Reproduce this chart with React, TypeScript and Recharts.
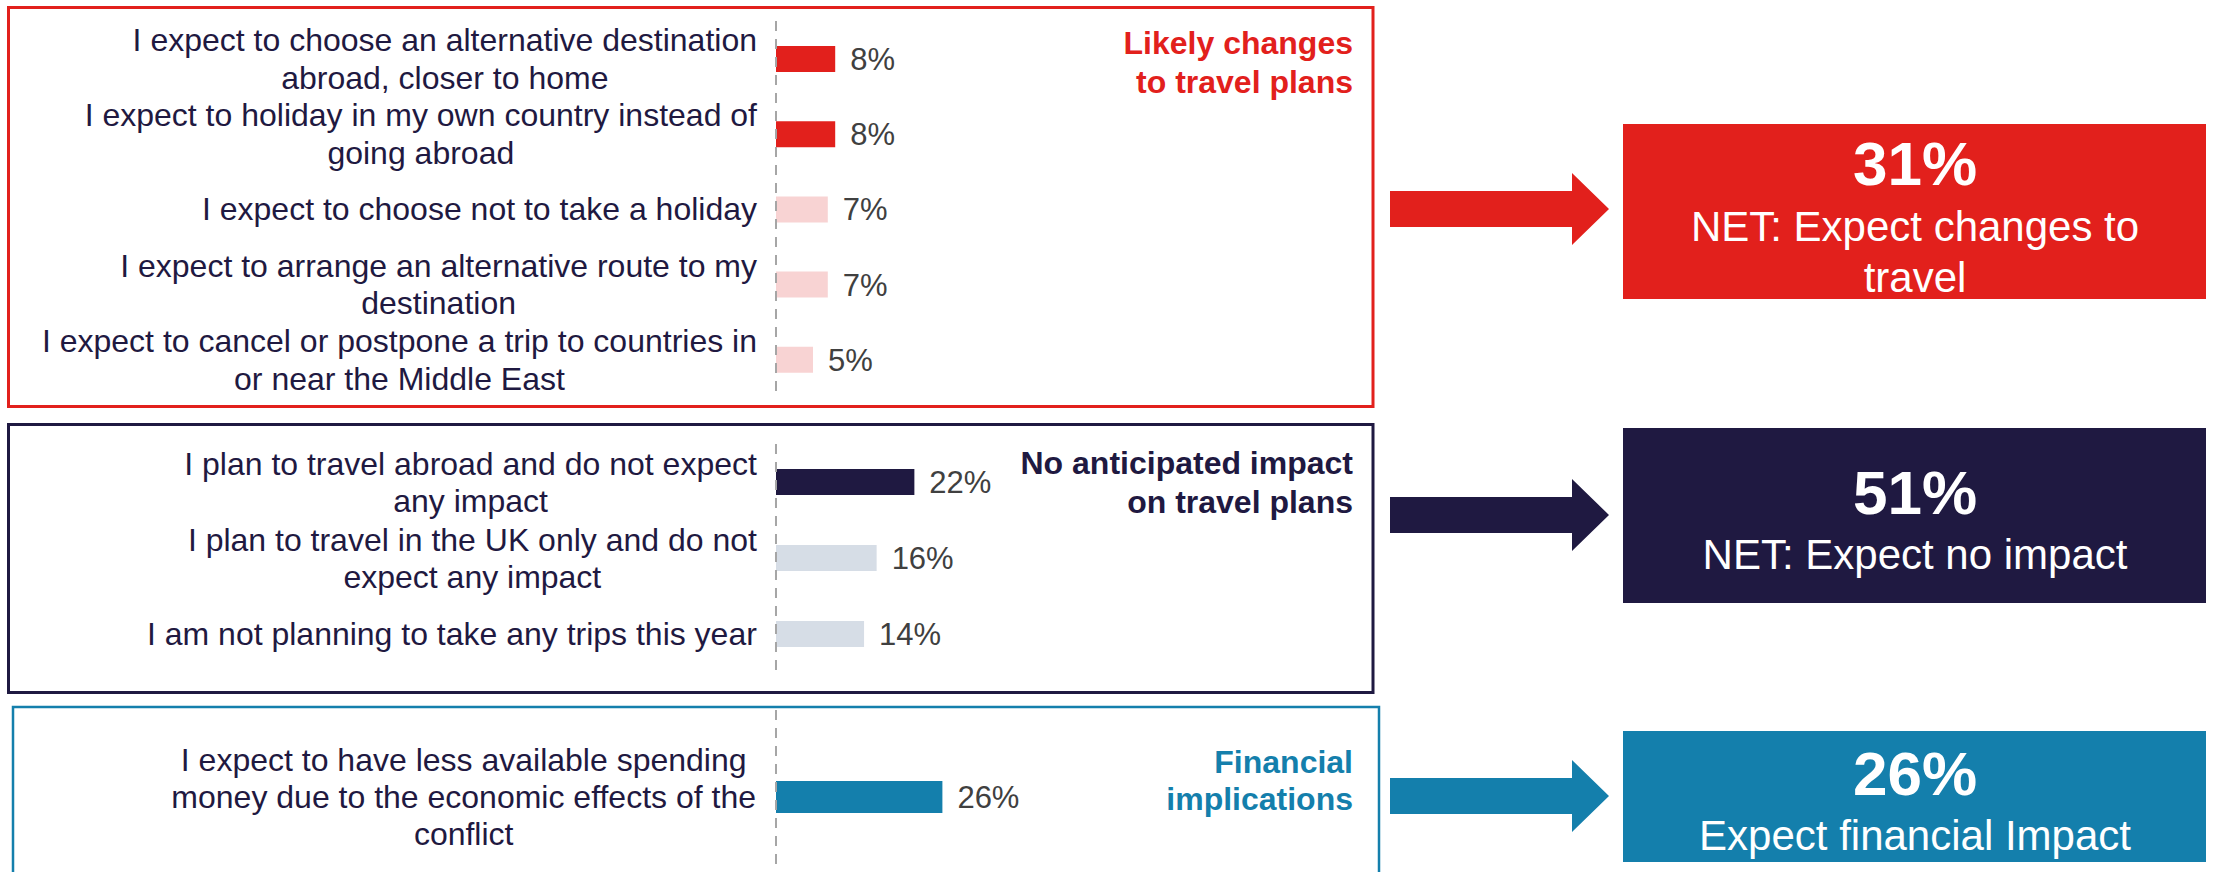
import React from "react";
import { BarChart, Bar, XAxis, YAxis, Cell, LabelList } from "recharts";

// --- data ---
const changeLabels = [
  "I expect to choose an alternative destination\nabroad, closer to home",
  "I expect to holiday in my own country instead of\ngoing abroad",
  "I expect to choose not to take a holiday",
  "I expect to arrange an alternative route to my\ndestination",
  "I expect to cancel or postpone a trip to countries in\nor near the Middle East",
];
const changeValues = [8, 8, 7, 7, 5];

const noImpactLabels = [
  "I plan to travel abroad and do not expect\nany impact",
  "I plan to travel in the UK only and do not\nexpect any impact",
  "I am not planning to take any trips this year",
];
const noImpactValues = [22, 16, 14];

const financeLabels = [
  "I expect to have less available spending\nmoney due to the economic effects of the\nconflict",
];
const financeValues = [26];

const groupTitles = [
  ["Likely changes", "to travel plans"],
  ["No anticipated impact", "on travel plans"],
  ["Financial", "implications"],
];
const netValues = [31, 51, 26];
const netCaptions = [
  ["NET: Expect changes to", "travel"],
  ["NET: Expect no impact"],
  ["Expect financial Impact"],
];

// --- palette ---
const RED = "#e2201c";
const PINK = "#f8d3d3";
const NAVY = "#1f1941";
const MIST = "#d6dde6";
const BLUE = "#147fac";
const FONT = "'Liberation Sans', Arial, sans-serif";

const changeColors = [RED, RED, PINK, PINK, PINK];
const noImpactColors = [NAVY, MIST, MIST];
const financeColors = [BLUE];

const toRows = (labels: string[], values: number[]) =>
  labels.map((name, i) => ({ name, value: values[i] }));

let ctx: CanvasRenderingContext2D | null = null;
function measure(s: string) {
  if (!ctx) ctx = document.createElement("canvas").getContext("2d");
  if (!ctx) return s.length * 15;
  ctx.font = `32px ${FONT}`;
  return ctx.measureText(s).width;
}

// multi-line category label: lines centred, block right-aligned against the axis
function makeTick(rightEdge: number, lineGap: number) {
  return (props: any) => {
    const { y, payload } = props;
    const lines = String(payload.value).split("\n");
    const w = Math.max(...lines.map(measure));
    const cx = rightEdge - w / 2;
    return (
      <text x={cx} y={y} textAnchor="middle" fill={NAVY} fontSize={32} fontFamily={FONT}>
        {lines.map((l, i) => (
          <tspan key={i} x={cx} y={y + (i - (lines.length - 1) / 2) * lineGap} dy="0.355em">
            {l}
          </tspan>
        ))}
      </text>
    );
  };
}

const AXIS_W = 776;
const DOMAIN_MAX = 40;
const RIGHT_PAD = 120;

interface PanelProps {
  rows: { name: string; value: number }[];
  colors: string[];
  top: number;
  height: number;
  pxPerPct: number;
  barSize: number;
  rightEdge: number;
  lineGap: number;
}

function Panel({ rows, colors, top, height, pxPerPct, barSize, rightEdge, lineGap }: PanelProps) {
  const plotW = pxPerPct * DOMAIN_MAX;
  return (
    <div style={{ position: "absolute", left: 0, top }}>
      <BarChart
        width={AXIS_W + plotW + RIGHT_PAD}
        height={height}
        data={rows}
        layout="vertical"
        margin={{ top: 0, right: RIGHT_PAD, bottom: 0, left: 0 }}
      >
        <XAxis type="number" domain={[0, DOMAIN_MAX]} hide />
        <YAxis
          type="category"
          dataKey="name"
          width={AXIS_W}
          interval={0}
          tickLine={false}
          axisLine={{ stroke: "#a6a6a6", strokeWidth: 2, strokeDasharray: "10 8" }}
          tick={makeTick(rightEdge, lineGap)}
        />
        <Bar dataKey="value" barSize={barSize} isAnimationActive={false}>
          {rows.map((_, i) => (
            <Cell key={i} fill={colors[i]} />
          ))}
          <LabelList
            dataKey="value"
            position="right"
            offset={15}
            formatter={(v: any) => `${v}%`}
            fill="#404040"
            fontSize={31}
            fontFamily={FONT}
          />
        </Bar>
      </BarChart>
    </div>
  );
}

function Arrow({ c, color }: { c: number; color: string }) {
  const pts = [
    [1390, c - 18], [1572, c - 18], [1572, c - 36], [1609, c],
    [1572, c + 36], [1572, c + 18], [1390, c + 18],
  ].map((p) => p.join(",")).join(" ");
  return <polygon points={pts} fill={color} />;
}

export default function App() {
  const groupColors = [RED, NAVY, BLUE];
  const titleBase = [54, 474, 773];
  const titleGap = [39, 39, 37];
  const boxes = [
    { y: 124, h: 175, big: 185, cap: 241 },
    { y: 428, h: 175, big: 514, cap: 569 },
    { y: 731, h: 131, big: 795, cap: 850 },
  ];
  const arrowC = [209, 515, 796];

  return (
    <div
      style={{
        position: "absolute", left: 0, top: 0, width: 2213, height: 872,
        overflow: "hidden", background: "#fff", fontFamily: FONT,
      }}
    >
      <svg width={2213} height={872} style={{ position: "absolute", left: 0, top: 0 }}>
        <rect x={8.5} y={7.5} width={1364.5} height={399} fill="none" stroke={RED} strokeWidth={3} />
        <rect x={8.5} y={424.5} width={1364.5} height={268} fill="none" stroke={NAVY} strokeWidth={3} />
        <rect x={13} y={707} width={1366} height={200} fill="none" stroke={BLUE} strokeWidth={2.5} />

        {groupTitles.map((lines, g) => (
          <text key={g} x={1353} textAnchor="end" fill={groupColors[g]} fontSize={32} fontWeight="bold">
            {lines.map((l, i) => (
              <tspan key={i} x={1353} y={titleBase[g] + i * titleGap[g]}>{l}</tspan>
            ))}
          </text>
        ))}

        {arrowC.map((c, g) => (
          <Arrow key={g} c={c} color={groupColors[g]} />
        ))}

        {boxes.map((b, g) => (
          <g key={g}>
            <rect x={1623} y={b.y} width={583} height={b.h} fill={groupColors[g]} />
            <text x={1915} y={b.big} textAnchor="middle" fill="#fff" fontSize={62} fontWeight="bold">
              {`${netValues[g]}%`}
            </text>
            <text x={1915} textAnchor="middle" fill="#fff" fontSize={42}>
              {netCaptions[g].map((l, i) => (
                <tspan key={i} x={1915} y={b.cap + i * 51}>{l}</tspan>
              ))}
            </text>
          </g>
        ))}
      </svg>

      <Panel rows={toRows(changeLabels, changeValues)} colors={changeColors}
        top={21} height={376} pxPerPct={7.4} barSize={26} rightEdge={757} lineGap={37.5} />
      <Panel rows={toRows(noImpactLabels, noImpactValues)} colors={noImpactColors}
        top={444} height={228} pxPerPct={6.29} barSize={26} rightEdge={757} lineGap={37.5} />
      <Panel rows={toRows(financeLabels, financeValues)} colors={financeColors}
        top={710} height={174} pxPerPct={6.4} barSize={32} rightEdge={756} lineGap={37} />
    </div>
  );
}
